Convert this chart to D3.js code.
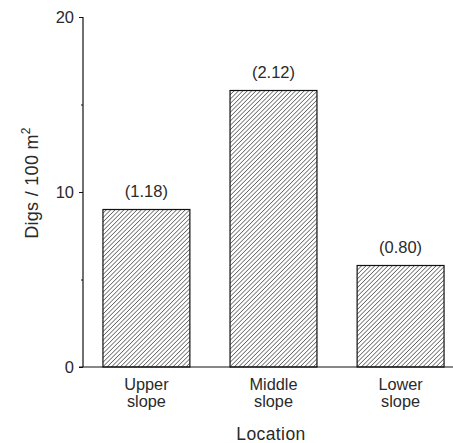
<!DOCTYPE html>
<html><head><meta charset="utf-8">
<script src="https://cdn.jsdelivr.net/npm/d3@7"></script>
<style>
body{margin:0;background:#fff;}
text{font-family:"Liberation Sans",Arial,sans-serif;fill:#2a2a2a;}
</style></head>
<body><svg id="c" width="453" height="443"></svg>
<script>
const categories = [["Upper","slope"],["Middle","slope"],["Lower","slope"]];
const values = [9.0, 15.8, 5.8];
const annotations = ["(1.18)","(2.12)","(0.80)"];
const majorTicks = [0,10,20];
const minorTicks = [5,15];

const svg = d3.select("#c");
const defs = svg.append("defs");
const pat = defs.append("pattern").attr("id","hatch").attr("patternUnits","userSpaceOnUse")
  .attr("width",3.1).attr("height",3.1).attr("patternTransform","rotate(45)");
pat.append("line").attr("x1",0).attr("y1",0).attr("x2",0).attr("y2",3.1)
  .attr("stroke","#222").attr("stroke-width",1.1);

const axX = 83;
const y = d3.scaleLinear().domain([0,20]).range([367,17]);
const x = d3.scaleBand().domain(d3.range(categories.length)).range([83,464])
  .paddingInner(0.316).paddingOuter(0.157);

// bars
svg.selectAll("rect.bar").data(values).join("rect").attr("class","bar")
  .attr("x",(d,i)=>x(i)).attr("width",x.bandwidth())
  .attr("y",d=>y(d)).attr("height",d=>y(0)-y(d))
  .attr("fill","url(#hatch)").attr("stroke","#111").attr("stroke-width",1.2);

// annotations
svg.selectAll("text.ann").data(values).join("text").attr("class","ann")
  .attr("x",(d,i)=>x(i)+x.bandwidth()/2).attr("y",d=>y(d)-13)
  .attr("text-anchor","middle").attr("font-size",16.5).text((d,i)=>annotations[i]);

// y axis
const yAxis = d3.axisLeft(y).tickValues(majorTicks).tickSize(4).tickPadding(5).tickFormat(d3.format("d"));
const gy = svg.append("g").attr("transform",`translate(${axX},0)`).call(yAxis);
gy.select(".domain").remove();
gy.selectAll("text").attr("font-size",16.5).attr("font-family","Liberation Sans, Arial, sans-serif").attr("fill","#2a2a2a");
gy.selectAll("line").attr("stroke","#111");
svg.append("line").attr("x1",axX).attr("x2",axX).attr("y1",y(20)).attr("y2",y(0))
  .attr("stroke","#111").attr("stroke-width",1.2);
const gym = svg.append("g").attr("transform",`translate(${axX},0)`)
  .call(d3.axisLeft(y).tickValues(minorTicks).tickSize(2).tickFormat(""));
gym.select(".domain").remove();
gym.selectAll("line").attr("stroke","#111");

// x axis line
svg.append("line").attr("x1",axX-4).attr("x2",453).attr("y1",y(0)).attr("y2",y(0))
  .attr("stroke","#111").attr("stroke-width",1.2);

// category labels
const cl = svg.selectAll("text.cat").data(categories).join("text").attr("class","cat")
  .attr("text-anchor","middle").attr("font-size",16.3);
cl.each(function(d,i){
  const t = d3.select(this);
  d.forEach((s,k)=>t.append("tspan").attr("x",x(i)+x.bandwidth()/2).attr("y",390+k*17).text(s));
});

// axis titles
svg.append("text").attr("x",271).attr("y",440).attr("text-anchor","middle").attr("font-size",17.5)
  .attr("letter-spacing",0.4).text("Location");
const yt = svg.append("text").attr("transform","translate(38,183) rotate(-90)").attr("text-anchor","middle")
  .attr("font-size",18).attr("letter-spacing",0.3);
yt.append("tspan").text("Digs / 100 m");
yt.append("tspan").attr("dy",-8).attr("font-size",12).text("2");
</script></body></html>
